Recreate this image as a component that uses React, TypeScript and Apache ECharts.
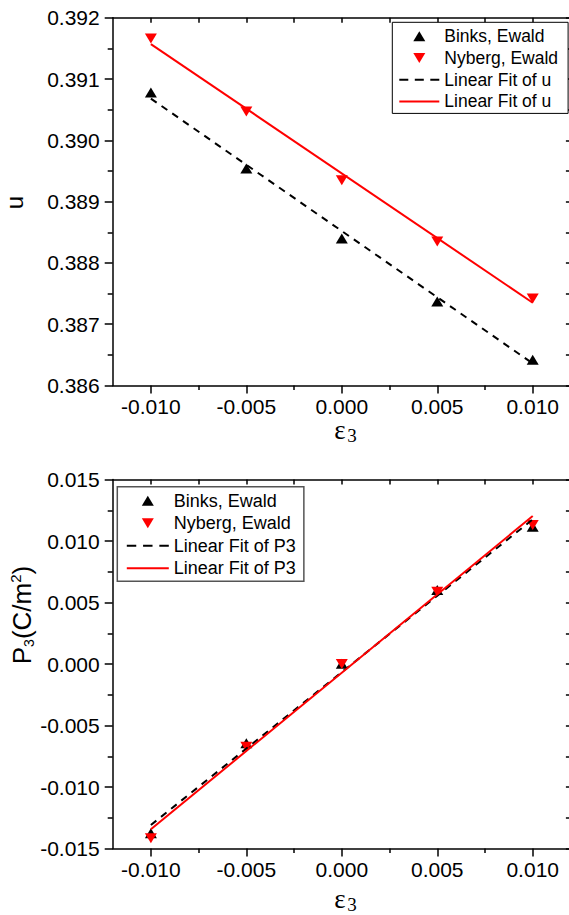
import React, { useEffect, useRef } from "react";
import * as echarts from "echarts";

// ---------- data ----------
const eps = [-0.01, -0.005, 0.0, 0.005, 0.01];
const xMajor = [-0.01, -0.005, 0.0, 0.005, 0.01];
const xMinor = [-0.0075, -0.0025, 0.0025, 0.0075];
const uBinks = [0.39078, 0.38954, 0.3884, 0.38737, 0.38642];
const uNyberg = [0.39166, 0.39047, 0.38935, 0.38835, 0.38742];
const fitEps = [-0.01, 0.01];
const uFitBinks = [0.39068, 0.38636];
const uFitNyberg = [0.39157, 0.38735];
const pBinks = [-0.01377, -0.00645, 0.00002, 0.00602, 0.01116];
const pNyberg = [-0.01417, -0.00672, 0.0, 0.00588, 0.0113];
const pFitBinks = [-0.01309, 0.01176];
const pFitNyberg = [-0.01344, 0.01203];

const legendTop = ["Binks, Ewald", "Nyberg, Ewald", "Linear Fit of u", "Linear Fit of u"];
const legendBottom = ["Binks, Ewald", "Nyberg, Ewald", "Linear Fit of P3", "Linear Fit of P3"];

const FONT = "'Liberation Sans', Arial, sans-serif";
const SERIF = "'Liberation Serif', 'Times New Roman', serif";
const UP = "path://M6,0 L12,10 L0,10 Z";
const DOWN = "path://M0,0 L12,0 L6,10 Z";
const DASH = "path://M0,0 h9 v2 h-9 Z M15.5,0 h9 v2 h-9 Z M31,0 h9 v2 h-9 Z";
const SOLID = "path://M0,0 h40 v2 h-40 Z";

const pairs = (xs: number[], ys: number[]) => xs.map((x, i) => [x, ys[i]]);

const GRID_LEFT = 112.7;
const GRID_W = 458.2;
const TICK_FONT = 21;

function xAxes(grid: number) {
  const base = {
    type: "value",
    gridIndex: grid,
    min: -0.012,
    max: 0.012,
    splitLine: { show: false },
  };
  return [
    {
      ...base,
      position: "bottom",
      axisLine: { show: true, onZero: false, lineStyle: { color: "#000", width: 1.5 } },
      axisTick: { show: true, customValues: xMajor, length: 8, lineStyle: { color: "#000", width: 1.5 } },
      axisLabel: {
        show: true,
        customValues: xMajor,
        margin: 12.5,
        lineHeight: 16,
        formatter: (v: number) => v.toFixed(3),
        color: "#000",
        fontFamily: FONT,
        fontSize: TICK_FONT,
      },
    },
    {
      ...base,
      position: "bottom",
      axisLine: { show: false, onZero: false },
      axisTick: { show: true, customValues: xMinor, length: 4.5, lineStyle: { color: "#000", width: 1.5 } },
      axisLabel: { show: false },
    },
    {
      ...base,
      position: "top",
      axisLine: { show: true, onZero: false, lineStyle: { color: "#000", width: 1.5 } },
      axisTick: { show: true, inside: true, customValues: [...xMajor, ...xMinor], length: 5, lineStyle: { color: "#000", width: 1.5 } },
      axisLabel: { show: false },
    },
  ];
}

function yAxes(grid: number, min: number, max: number, interval: number) {
  const base = {
    type: "value",
    gridIndex: grid,
    min,
    max,
    interval,
    splitLine: { show: false },
  };
  return [
    {
      ...base,
      position: "left",
      axisLine: { show: true, onZero: false, lineStyle: { color: "#000", width: 1.5 } },
      axisTick: { show: true, length: 8, lineStyle: { color: "#000", width: 1.5 } },
      minorTick: { show: true, splitNumber: 2, length: 5, lineStyle: { color: "#000", width: 1.5 } },
      axisLabel: {
        margin: 13,
        lineHeight: 16,
        formatter: (v: number) => v.toFixed(3),
        color: "#000",
        fontFamily: FONT,
        fontSize: TICK_FONT,
      },
    },
    {
      ...base,
      position: "right",
      axisLine: { show: true, onZero: false, lineStyle: { color: "#000", width: 1.5 } },
      axisTick: { show: true, inside: true, length: 5, lineStyle: { color: "#000", width: 1.5 } },
      minorTick: { show: true, splitNumber: 2, length: 5, lineStyle: { color: "#000", width: 1.5 } },
      axisLabel: { show: false },
    },
  ];
}

function epsTitle(cx: number, cy: number) {
  return [
    {
      type: "text", x: cx - 2, y: cy + 1,
      style: { text: "ε", font: `27px ${SERIF}`, lineHeight: 12, fill: "#000", align: "center", verticalAlign: "middle" },
    },
    {
      type: "text", x: cx + 10, y: cy + 6.5,
      style: { text: "3", font: `19px ${SERIF}`, lineHeight: 12, fill: "#000", align: "center", verticalAlign: "middle" },
    },
  ];
}

export default function App() {
  const ref = useRef<HTMLDivElement>(null);
  useEffect(() => {
    if (!ref.current) return;
    const chart = echarts.init(ref.current, null, { renderer: "svg" });
    const topLabels: Record<string, string> = {
      tB: legendTop[0],
      tN: legendTop[1],
      tFB: legendTop[2],
      tFN: legendTop[3],
    };
    const botLabels: Record<string, string> = {
      bB: legendBottom[0],
      bN: legendBottom[1],
      bFB: legendBottom[2],
      bFN: legendBottom[3],
    };
    chart.setOption({
      animation: false,
      backgroundColor: "#fff",
      graphic: [
        ...epsTitle(342, 429),
        ...epsTitle(342, 897.5),
        {
          type: "text", x: 14, y: 202.5, rotation: Math.PI / 2,
          style: { text: "u", font: `24px ${FONT}`, fill: "#000", align: "center", verticalAlign: "middle" },
        },
        {
          type: "text", x: 22, y: 615, rotation: Math.PI / 2,
          style: {
            text: "{n|P}{sub|3}{n|(C/m}{sup|2}{n|)}",
            align: "center",
            verticalAlign: "middle",
            rich: {
              n: { fontFamily: FONT, fontSize: 26, lineHeight: 28, fill: "#000" },
              sub: { fontFamily: FONT, fontSize: 14, lineHeight: 14, verticalAlign: "bottom", fill: "#000" },
              sup: { fontFamily: FONT, fontSize: 15, lineHeight: 15, verticalAlign: "top", fill: "#000" },
            },
          },
        },
      ],
      grid: [
        { left: GRID_LEFT, top: 17.7, width: GRID_W, height: 367.8, outerBoundsMode: "none", containLabel: false },
        { left: GRID_LEFT, top: 479.5, width: GRID_W, height: 369, outerBoundsMode: "none", containLabel: false },
      ],
      xAxis: [...xAxes(0), ...xAxes(1)],
      yAxis: [...yAxes(0, 0.386, 0.392, 0.001), ...yAxes(1, -0.015, 0.015, 0.005)],
      legend: [
        {
          orient: "vertical",
          left: 392.3,
          top: 22.3,
          padding: [5, 10, 3, 7],
          itemWidth: 40,
          itemHeight: 10,
          itemGap: 3.7,
          borderColor: "#000",
          borderWidth: 1,
          backgroundColor: "#fff",
          textStyle: { fontFamily: FONT, fontSize: 17.5, lineHeight: 18, color: "#000" },
          formatter: (n: string) => topLabels[n],
          data: [
            { name: "tB", icon: UP },
            { name: "tN", icon: DOWN },
            { name: "tFB", icon: DASH },
            { name: "tFN", icon: SOLID },
          ],
        },
        {
          orient: "vertical",
          left: 117.3,
          top: 486.7,
          padding: [5, 8, 4, 9.5],
          itemWidth: 42,
          itemHeight: 10,
          itemGap: 4.5,
          borderColor: "#555",
          borderWidth: 1.5,
          backgroundColor: "#fff",
          textStyle: { fontFamily: FONT, fontSize: 18, lineHeight: 18, color: "#000" },
          formatter: (n: string) => botLabels[n],
          data: [
            { name: "bB", icon: UP },
            { name: "bN", icon: DOWN },
            { name: "bFB", icon: DASH },
            { name: "bFN", icon: SOLID },
          ],
        },
      ],
      series: [
        {
          name: "tFB", type: "line", xAxisIndex: 0, yAxisIndex: 0, symbol: "none",
          data: pairs(fitEps, uFitBinks),
          lineStyle: { color: "#000", width: 2, type: [7, 6] }, itemStyle: { color: "#000" },
        },
        {
          name: "tFN", type: "line", xAxisIndex: 0, yAxisIndex: 0, symbol: "none",
          data: pairs(fitEps, uFitNyberg),
          lineStyle: { color: "#ff0000", width: 2 }, itemStyle: { color: "#ff0000" },
        },
        {
          name: "tB", type: "scatter", xAxisIndex: 0, yAxisIndex: 0, symbol: UP, symbolSize: [12, 10],
          data: pairs(eps, uBinks), itemStyle: { color: "#000", opacity: 1 },
        },
        {
          name: "tN", type: "scatter", xAxisIndex: 0, yAxisIndex: 0, symbol: DOWN, symbolSize: [12, 10],
          data: pairs(eps, uNyberg), itemStyle: { color: "#ff0000", opacity: 1 },
        },
        {
          name: "bFB", type: "line", xAxisIndex: 3, yAxisIndex: 2, symbol: "none",
          data: pairs(fitEps, pFitBinks),
          lineStyle: { color: "#000", width: 2, type: [7, 6] }, itemStyle: { color: "#000" },
        },
        {
          name: "bFN", type: "line", xAxisIndex: 3, yAxisIndex: 2, symbol: "none",
          data: pairs(fitEps, pFitNyberg),
          lineStyle: { color: "#ff0000", width: 2 }, itemStyle: { color: "#ff0000" },
        },
        {
          name: "bB", type: "scatter", xAxisIndex: 3, yAxisIndex: 2, symbol: UP, symbolSize: [12, 10],
          data: pairs(eps, pBinks), itemStyle: { color: "#000", opacity: 1 },
        },
        {
          name: "bN", type: "scatter", xAxisIndex: 3, yAxisIndex: 2, symbol: DOWN, symbolSize: [12, 10],
          data: pairs(eps, pNyberg), itemStyle: { color: "#ff0000", opacity: 1 },
        },
      ],
    });
    return () => chart.dispose();
  }, []);
  return (
    <div
      ref={ref}
      style={{ position: "absolute", left: 0, top: 0, width: 569, height: 915, overflow: "hidden" }}
    />
  );
}
